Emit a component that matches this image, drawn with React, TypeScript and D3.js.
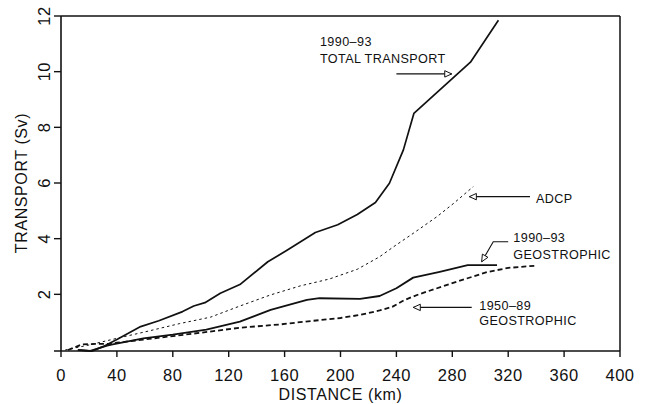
import React from "react";
import * as d3 from "d3";

const xTicks = [0, 40, 80, 120, 160, 200, 240, 280, 320, 360, 400];
const yTicks = [2, 4, 6, 8, 10, 12];

const totalKm = [13, 22, 30, 40, 57, 70, 87, 95, 103, 114, 128, 148, 162, 182, 198, 212, 225, 235, 245, 252.5, 293, 313];
const totalSv = [0, -0.04, 0.12, 0.38, 0.84, 1.05, 1.38, 1.58, 1.7, 2.04, 2.35, 3.17, 3.59, 4.22, 4.5, 4.87, 5.3, 5.99, 7.19, 8.5, 10.34, 11.85];

const adcpKm = [3, 20, 40, 60, 85, 107, 128, 150, 171, 192, 212, 228, 238, 252, 269, 281, 295];
const adcpSv = [0, 0.18, 0.42, 0.65, 0.95, 1.18, 1.58, 1.98, 2.3, 2.55, 2.9, 3.35, 3.71, 4.19, 4.79, 5.27, 5.87];

const geo9093Km = [12, 21, 33, 37, 59, 80, 104, 128, 150, 176, 185, 214, 228, 240, 252, 271, 291, 312];
const geo9093Sv = [0, -0.03, 0.16, 0.2, 0.42, 0.55, 0.73, 1.02, 1.44, 1.8, 1.86, 1.84, 1.94, 2.22, 2.6, 2.81, 3.05, 3.05];

const geo5089Km = [5, 15, 25, 35, 40, 60, 80, 100, 128, 157, 171, 200, 214, 228, 237, 246, 256, 268, 286, 305, 320, 340];
const geo5089Sv = [0, 0.2, 0.22, 0.22, 0.26, 0.38, 0.5, 0.62, 0.8, 0.92, 1.0, 1.15, 1.26, 1.42, 1.55, 1.8, 2.0, 2.2, 2.5, 2.8, 2.95, 3.03];

// annotation labels (data units)
const labelLines = [
  { km: 185.3, sv: 10.92, text: "1990\u201393" },
  { km: 185.3, sv: 10.3, text: "TOTAL TRANSPORT" },
  { km: 339.9, sv: 5.29, text: "ADCP" },
  { km: 323.7, sv: 3.89, text: "1990\u201393" },
  { km: 323.7, sv: 3.26, text: "GEOSTROPHIC" },
  { km: 299.3, sv: 1.44, text: "1950\u201389" },
  { km: 299.3, sv: 0.9, text: "GEOSTROPHIC" },
];
// arrows: path in data units, last point is the tip
const arrows = [
  [[240, 9.92], [279.6, 9.92]],
  [[335.6, 5.51], [292.2, 5.51]],
  [[320, 3.89], [309.3, 3.89], [301, 3.17]],
  [[293.9, 1.53], [252.1, 1.53]],
];

const W = 649;
const H = 404;
const FONT = "'Liberation Sans', Arial, sans-serif";

export default function App() {
  const x = d3.scaleLinear().domain([0, 400]).range([61, 620]);
  const y = d3.scaleLinear().domain([0, 12]).range([350, 16]);

  const line = d3
    .line<[number, number]>()
    .x((d) => x(d[0]))
    .y((d) => y(d[1]));

  const zip = (a: number[], b: number[]) => a.map((v, i) => [v, b[i]] as [number, number]);

  const series = [
    { d: zip(totalKm, totalSv), w: 1.7, dash: undefined as string | undefined },
    { d: zip(adcpKm, adcpSv), w: 1.0, dash: "2.5,3" },
    { d: zip(geo9093Km, geo9093Sv), w: 1.8, dash: undefined },
    { d: zip(geo5089Km, geo5089Sv), w: 1.8, dash: "5,3" },
  ];

  const arrowHead = (pts: number[][]) => {
    const n = pts.length;
    const [x1, y1] = [x(pts[n - 2][0]), y(pts[n - 2][1])];
    const [x2, y2] = [x(pts[n - 1][0]), y(pts[n - 1][1])];
    const ang = Math.atan2(y2 - y1, x2 - x1);
    const L = 7, hw = 3.2;
    const bx = x2 - L * Math.cos(ang), by = y2 - L * Math.sin(ang);
    const px = -Math.sin(ang) * hw, py = Math.cos(ang) * hw;
    return `M${bx + px},${by + py}L${x2},${y2}L${bx - px},${by - py}Z`;
  };

  return (
    <svg
      width={W}
      height={H}
      style={{ position: "absolute", left: 0, top: 0, background: "#fff" }}
      fontFamily={FONT}
    >
      <rect x={0} y={0} width={W} height={H} fill="#fff" />
      {/* frame */}
      <line x1={x(0)} y1={y(12)} x2={x(400)} y2={y(12)} stroke="#111" strokeWidth={1.5} />
      <line x1={x(400)} y1={y(12)} x2={x(400)} y2={y(0) + 1} stroke="#111" strokeWidth={1.5} />
      <line x1={x(0)} y1={y(12)} x2={x(0)} y2={y(0) + 1} stroke="#111" strokeWidth={1.6} />
      <line x1={x(0) - 7} y1={y(0) + 1} x2={x(400)} y2={y(0) + 1} stroke="#111" strokeWidth={1.6} />

      {/* x ticks */}
      {xTicks.map((t) => (
        <g key={"x" + t}>
          <line x1={x(t)} x2={x(t)} y1={y(0) + 1} y2={y(0) + 7} stroke="#111" strokeWidth={1.4} />
          <text x={x(t)} y={381} textAnchor="middle" fontSize={16.5} fill="#111" letterSpacing={0.5}>
            {t}
          </text>
        </g>
      ))}
      {/* y ticks */}
      {yTicks.map((t) => (
        <g key={"y" + t}>
          <line x1={x(0) - 7} x2={x(0)} y1={y(t)} y2={y(t)} stroke="#111" strokeWidth={1.4} />
          <text
            transform={`translate(50,${y(t)}) rotate(-90)`}
            textAnchor="middle"
            fontSize={16.5}
            fill="#111"
            letterSpacing={0.5}
          >
            {t}
          </text>
        </g>
      ))}

      <text x={(x(0) + x(400)) / 2} y={400} textAnchor="middle" fontSize={16} fill="#111" letterSpacing={0.6}>
        DISTANCE  (km)
      </text>
      <text
        transform={`translate(27,${(y(0) + y(12)) / 2}) rotate(-90)`}
        textAnchor="middle"
        fontSize={16}
        fill="#111"
        letterSpacing={0.6}
      >
        TRANSPORT  (Sv)
      </text>

      {/* series */}
      {series.map((s, i) => (
        <path
          key={"s" + i}
          d={line(s.d) || ""}
          fill="none"
          stroke="#111"
          strokeWidth={s.w}
          strokeDasharray={s.dash}
          strokeLinejoin="round"
        />
      ))}

      {/* annotations */}
      {labelLines.map((l, i) => (
        <text key={"l" + i} x={x(l.km)} y={y(l.sv)} fontSize={12.6} fill="#111" letterSpacing={0.4}>
          {l.text}
        </text>
      ))}
      {arrows.map((a, i) => (
        <g key={"a" + i}>
          <path d={line(a as [number, number][]) || ""} fill="none" stroke="#111" strokeWidth={1.1} />
          <path d={arrowHead(a)} fill="#fff" stroke="#111" strokeWidth={1} />
        </g>
      ))}
    </svg>
  );
}
